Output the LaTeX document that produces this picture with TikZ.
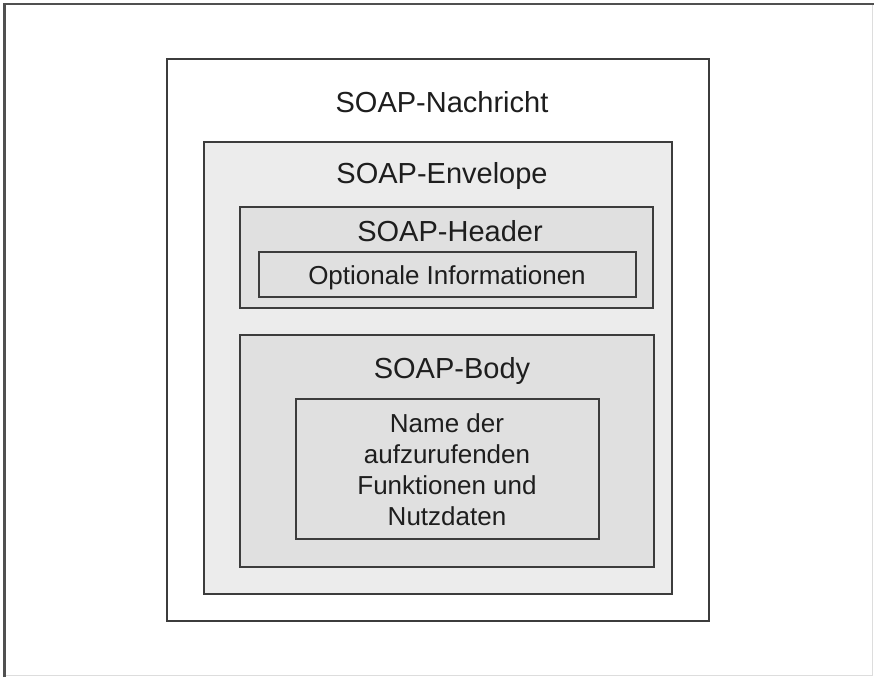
\documentclass[tikz,border=0pt]{standalone}
\usepackage{fontspec}
\setmainfont{Liberation Sans}
\definecolor{linec}{HTML}{3C3C3C}
\definecolor{txtc}{HTML}{1E1E1E}
\definecolor{envfill}{HTML}{ECECEC}
\definecolor{innerfill}{HTML}{E0E0E0}
\definecolor{faint}{HTML}{DDDDDD}
\tikzset{
  box/.style={draw=linec, line width=2.3pt, rectangle, inner sep=0pt},
  lbl/.style={anchor=base, text=txtc, font=\fontsize{29}{35}\selectfont, inner sep=0pt},
  small/.style={anchor=base, text=txtc, font=\fontsize{26}{31}\selectfont, inner sep=0pt},
}
\begin{document}
\begin{tikzpicture}[x=1pt,y=-1pt]
\useasboundingbox (0,0) rectangle (874,677);
% frame
\coordinate (fTL) at (4.5,4);
\coordinate (fTR) at (874,4);
\coordinate (fBL) at (4.5,677);
\coordinate (fRB) at (872.5,675);
\coordinate (fRT) at (872.5,5);
\coordinate (fBR) at (5,675);
\draw[faint, line width=1pt] (fRT) -- (fRB) -- (fBR);
\draw[linec!90, line width=2.3pt] (fBL) -- (fTL) -- (fTR);
% boxes
\node[box, fill=white, minimum width=542pt, minimum height=562pt] (msg) at (438,340) {};
\node[box, fill=envfill, minimum width=468pt, minimum height=452pt] (env) at (438,368) {};
\node[box, fill=innerfill, minimum width=413pt, minimum height=101pt] (hdr) at (446.5,257.5) {};
\node[box, fill=innerfill, minimum width=377pt, minimum height=45pt] (opt) at (447.5,274.5) {};
\node[box, fill=innerfill, minimum width=414pt, minimum height=232pt] (body) at (447,451) {};
\node[box, fill=innerfill, minimum width=303pt, minimum height=140pt] (name) at (447.5,469) {};
% labels
\node[lbl] (tmsg) at (442,112) {SOAP-Nachricht};
\node[lbl] (tenv) at (442,183) {SOAP-Envelope};
\node[lbl] (thdr) at (450,241) {SOAP-Header};
\node[small] (topt) at (447,284) {Optionale Informationen};
\node[lbl] (tbody) at (452,378) {SOAP-Body};
\node[small] (n1) at (447,432) {Name der};
\node[small] (n2) at (447,463) {aufzurufenden};
\node[small] (n3) at (447,494) {Funktionen und};
\node[small] (n4) at (447,525) {Nutzdaten};
\end{tikzpicture}
\end{document}
